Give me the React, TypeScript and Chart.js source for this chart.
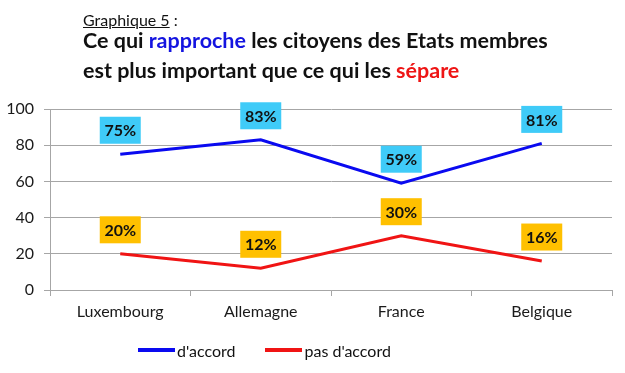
import React, { useEffect, useRef } from "react";
import { Chart, registerables } from "chart.js";

Chart.register(...registerables);

const categories = ["Luxembourg", "Allemagne", "France", "Belgique"];
const accord = [75, 83, 59, 81];
const pasAccord = [20, 12, 30, 16];
const seriesNames = ["d'accord", "pas d'accord"];
const yTicks = [0, 20, 40, 60, 80, 100];

const FONT = "Lato, 'Open Sans', sans-serif";
const BLUE = "#0a0af0";
const RED = "#f01414";
const CYAN = "#3fcbf8";
const GOLD = "#ffc000";

const labelBoxes = {
  id: "labelBoxes",
  afterDatasetsDraw(chart: any) {
    const ctx = chart.ctx;
    const fills = [CYAN, GOLD];
    chart.data.datasets.forEach((ds: any, di: number) => {
      const meta = chart.getDatasetMeta(di);
      meta.data.forEach((pt: any, i: number) => {
        const txt = ds.data[i] + "%";
        const cx = pt.x;
        const cy = pt.y - 24;
        const w = 41;
        const h = 27;
        ctx.save();
        ctx.fillStyle = fills[di];
        ctx.fillRect(cx - w / 2, cy - h / 2, w, h);
        ctx.fillStyle = "#111";
        ctx.font = "bold 16px " + FONT;
        ctx.textAlign = "center";
        ctx.textBaseline = "middle";
        ctx.fillText(txt, cx, cy + 1);
        ctx.restore();
      });
    });
  },
};

export default function App() {
  const ref = useRef<HTMLCanvasElement>(null);
  useEffect(() => {
    if (!ref.current) return;
    const chart = new Chart(ref.current, {
      type: "line",
      data: {
        labels: categories,
        datasets: [
          {
            label: seriesNames[0],
            data: accord,
            borderColor: BLUE,
            backgroundColor: BLUE,
            borderWidth: 3,
            pointRadius: 0,
            tension: 0,
          },
          {
            label: seriesNames[1],
            data: pasAccord,
            borderColor: RED,
            backgroundColor: RED,
            borderWidth: 3,
            pointRadius: 0,
            tension: 0,
          },
        ],
      },
      options: {
        animation: false,
        responsive: false,
        layout: { padding: { top: 109, left: 0, right: 13, bottom: 0 } },
        plugins: {
          legend: { display: false },
          tooltip: { enabled: false },
          title: { display: false },
        },
        scales: {
          x: {
            type: "category",
            offset: true,
            grid: {
              offset: true,
              drawOnChartArea: false,
              drawTicks: true,
              tickLength: 6,
              color: "#a6a6a6",
            },
            border: { color: "#a6a6a6", width: 1 },
            ticks: {
              font: { family: FONT, size: 16 },
              color: "#1a1a1a",
              padding: 6,
              maxRotation: 0,
            },
            afterFit: (s: any) => {
              s.height = 83;
            },
          },
          y: {
            min: 0,
            max: 100,
            afterBuildTicks: (s: any) => {
              s.ticks = yTicks.map((v) => ({ value: v }));
            },
            grid: { color: "#a6a6a6", tickLength: 6 },
            border: { color: "#a6a6a6", width: 1 },
            ticks: {
              font: { family: FONT, size: 16 },
              color: "#1a1a1a",
              padding: 10,
            },
            afterFit: (s: any) => {
              s.width = 50;
            },
          },
        },
      },
      plugins: [labelBoxes],
    });
    return () => chart.destroy();
  }, []);

  return (
    <div style={{ position: "absolute", left: 0, top: 0, width: 625, height: 373, background: "#fff", fontFamily: FONT }}>
      <canvas ref={ref} width={625} height={373} style={{ position: "absolute", left: 0, top: 0 }} />
      <div style={{ position: "absolute", left: 83, top: 10, fontSize: 16, lineHeight: "19px", color: "#111", whiteSpace: "nowrap" }}>
        <span style={{ textDecoration: "underline" }}>Graphique 5</span> :
      </div>
      <div style={{ position: "absolute", left: 83, top: 25, fontSize: 21.5, lineHeight: "30px", fontWeight: 700, color: "#111", whiteSpace: "nowrap" }}>
        <div>
          Ce qui <span style={{ color: "#1414e0" }}>rapproche</span> les citoyens des Etats membres
        </div>
        <div>
          est plus important que ce qui les <span style={{ color: "#ee1515" }}>sépare</span>
        </div>
      </div>
      <div style={{ position: "absolute", left: 138, top: 339, height: 22, display: "flex", alignItems: "center", fontSize: 16, color: "#111", whiteSpace: "nowrap" }}>
        <span style={{ display: "inline-block", width: 37, height: 4, background: BLUE, marginRight: 2 }} />
        <span>{seriesNames[0]}</span>
        <span style={{ display: "inline-block", width: 37, height: 4, background: RED, marginLeft: 30, marginRight: 2 }} />
        <span>{seriesNames[1]}</span>
      </div>
    </div>
  );
}
